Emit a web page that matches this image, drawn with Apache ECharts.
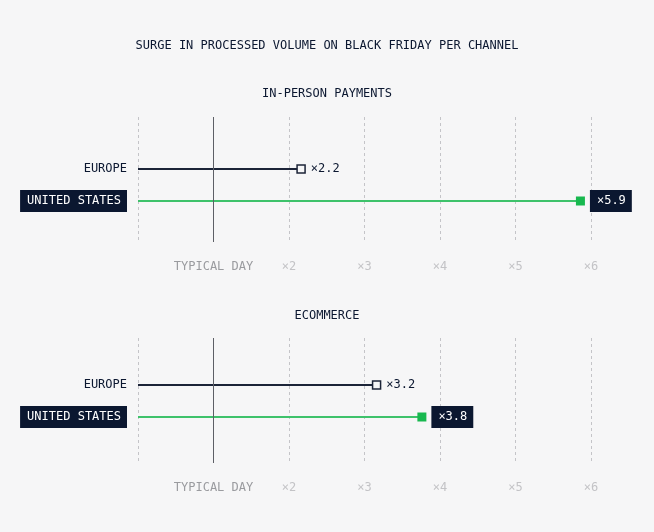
<!DOCTYPE html>
<html>
<head>
<meta charset="utf-8">
<script src="https://cdn.jsdelivr.net/npm/echarts@6/dist/echarts.min.js"></script>
<style>
	html, body { margin: 0; padding: 0; background: #f6f6f7; }
	#chart { width: 654px; height: 532px; }
</style>
</head>
<body>
<div id="chart"></div>
<script>
( function() {
	'use strict';
	var mainTitle = 'SURGE IN PROCESSED VOLUME ON BLACK FRIDAY PER CHANNEL';
	var panelTitles = [ 'IN-PERSON PAYMENTS', 'ECOMMERCE' ];
	var rows = [ 'EUROPE', 'UNITED STATES' ];
	var inPerson = [ 2.16, 5.86 ];
	var ecommerce = [ 3.16, 3.76 ];
	var tickLabels = [ '', 'TYPICAL DAY', '×2', '×3', '×4', '×5', '×6' ];

	var FONT = 'DejaVu Sans Mono';
	var NAVY = '#0b1730';
	var lineColors = [ '#1c2438', '#3ec26b' ];
	var markColors = [ '#f6f6f7', '#18b84f' ];

	// two panels: a tall grid for the guide lines, a short one for the rows
	var panels = [
		{ title: panelTitles[ 0 ], titleTop: 88, lineTop: 117, dataTop: 153, values: inPerson },
		{ title: panelTitles[ 1 ], titleTop: 310, lineTop: 338, dataTop: 369, values: ecommerce }
	];

	var option = {
		backgroundColor: '#f6f6f7',
		animation: false,
		title: [ {
			text: mainTitle,
			left: 'center',
			top: 40,
			padding: 0,
			textStyle: { fontFamily: FONT, fontSize: 12, fontWeight: 'normal', color: NAVY }
		} ],
		grid: [],
		xAxis: [],
		yAxis: [],
		series: []
	};

	panels.forEach( function( p, k ) {
		option.title.push( {
			text: p.title,
			left: 'center',
			top: p.titleTop,
			padding: 0,
			textStyle: { fontFamily: FONT, fontSize: 12, fontWeight: 'normal', color: NAVY }
		} );
		option.grid.push( { left: 138, right: 63, top: p.lineTop, height: 125 } );
		option.grid.push( { left: 138, right: 63, top: p.dataTop, height: 64 } );

		option.xAxis.push( {
			gridIndex: 2 * k,
			type: 'value',
			min: 0,
			max: 6,
			interval: 1,
			axisLine: { show: false },
			axisTick: { show: false },
			splitLine: {
				show: true,
				lineStyle: { color: '#c4c4c8', type: [ 3, 3 ], width: 1 }
			},
			axisLabel: {
				margin: 19,
				fontFamily: FONT,
				fontSize: 12,
				color: '#c3c3c6',
				formatter: function( v ) {
					var t = tickLabels[ Math.round( v ) ] || '';
					return v === 1 ? '{td|' + t + '}' : t;
				},
				rich: {
					td: { fontFamily: FONT, fontSize: 12, color: '#9a9b9f' }
				}
			}
		} );
		option.xAxis.push( {
			gridIndex: 2 * k + 1,
			type: 'value',
			min: 0,
			max: 6,
			interval: 1,
			show: false
		} );

		option.yAxis.push( { gridIndex: 2 * k, type: 'value', show: false } );
		option.yAxis.push( {
			gridIndex: 2 * k + 1,
			type: 'category',
			inverse: true,
			data: rows,
			axisLine: { show: false },
			axisTick: { show: false },
			splitLine: { show: false },
			axisLabel: {
				margin: 11,
				fontFamily: FONT,
				fontSize: 12,
				color: NAVY,
				formatter: function( v ) {
					return v === rows[ 1 ] ? '{hl|' + v + '}' : v;
				},
				rich: {
					hl: {
						fontFamily: FONT,
						fontSize: 12,
						color: '#ffffff',
						backgroundColor: NAVY,
						padding: [ 5, 6, 5, 7 ]
					}
				}
			}
		} );

		// solid "typical day" reference line
		option.series.push( {
			type: 'line',
			xAxisIndex: 2 * k,
			yAxisIndex: 2 * k,
			data: [],
			silent: true,
			markLine: {
				symbol: 'none',
				silent: true,
				label: { show: false },
				lineStyle: { color: '#5d5f66', type: 'solid', width: 1 },
				data: [ { xAxis: 1 } ]
			}
		} );

		option.series.push( {
			type: 'bar',
			xAxisIndex: 2 * k + 1,
			yAxisIndex: 2 * k + 1,
			barWidth: 2,
			silent: true,
			data: p.values.map( function( v, i ) {
				return { value: v, itemStyle: { color: lineColors[ i ] } };
			} )
		} );

		option.series.push( {
			type: 'scatter',
			xAxisIndex: 2 * k + 1,
			yAxisIndex: 2 * k + 1,
			symbol: 'rect',
			silent: true,
			z: 5,
			itemStyle: { opacity: 1 },
			data: p.values.map( function( v, i ) {
				var us = i === 1;
				return {
					value: [ v, rows[ i ] ],
					symbolSize: us ? 9 : 8,
					itemStyle: {
						opacity: 1,
						color: markColors[ i ],
						borderColor: us ? markColors[ i ] : lineColors[ i ],
						borderWidth: us ? 0 : 1.5
					},
					label: {
						show: true,
						position: 'right',
						distance: us ? 5 : 5,
						formatter: '×' + v.toFixed( 1 ),
						fontFamily: FONT,
						fontSize: 12,
						color: us ? '#ffffff' : NAVY,
						backgroundColor: us ? NAVY : 'transparent',
						padding: us ? [ 5, 6, 5, 7 ] : 0
					}
				};
			} )
		} );
	} );

	var chart = echarts.init( document.getElementById( 'chart' ) );
	chart.setOption( option );
} )();
</script>
</body>
</html>
